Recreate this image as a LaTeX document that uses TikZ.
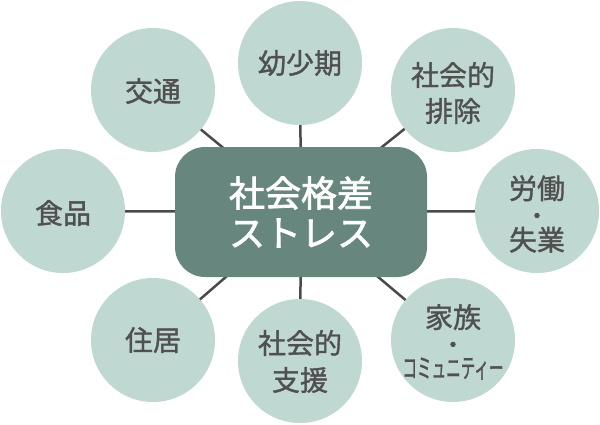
\documentclass[tikz,border=0pt]{standalone}
\usepackage{fontspec}
\newfontfamily\jp{Noto Sans CJK JP}[FakeBold=1.2]
\newfontfamily\jphub{Noto Sans CJK JP}[FakeBold=2]
\newfontfamily\jpdot{Noto Sans CJK JP}[FakeBold=3]
\definecolor{circfill}{HTML}{BFD8D2}
\definecolor{boxfill}{HTML}{67877E}
\definecolor{linecol}{HTML}{4A4A4A}
\definecolor{txtcol}{HTML}{505050}
\newcommand{\midot}{{\jpdot\fontsize{22}{25}\selectfont ・}}
\begin{document}
\begin{tikzpicture}[x=1pt,y=-1pt,
  topic/.style={circle,fill=circfill,minimum size=124pt,inner sep=0pt},
  hub/.style={rounded corners=30pt,fill=boxfill,minimum width=252pt,minimum height=130pt,inner sep=0pt},
  link/.style={draw=linecol,line width=2.5pt},
  lbl/.style={font=\jp\fontsize{28}{28}\selectfont,text=txtcol,inner sep=0pt},
  lbl3/.style={font=\jp\fontsize{28}{25}\selectfont,text=txtcol,inner sep=0pt,align=center},
  hublbl/.style={font=\jphub\fontsize{36}{36}\selectfont,text=white,inner sep=0pt}]
\useasboundingbox (0,0) rectangle (600,424);
% centre
\coordinate (hc) at (301,212);
% topics (coordinates)
\coordinate (c1) at (153,90);
\coordinate (c2) at (300,63);
\coordinate (c3) at (453,90);
\coordinate (c4) at (63,211);
\coordinate (c5) at (537,211);
\coordinate (c6) at (153,340);
\coordinate (c7) at (300,361);
\coordinate (c8) at (453,340);
% connectors behind
\foreach \i in {1,...,8} {\draw[link] (hc) -- (c\i);}
% hub
\node[hub] (hub) at (hc) {};
\node[hublbl] (h1) at (301,193) {社会格差};
\node[hublbl] (h2) at (301,233) {ストレス};
% circles
\node[topic] (t1) at (c1) {};
\node[topic] (t2) at (c2) {};
\node[topic] (t3) at (c3) {};
\node[topic] (t4) at (c4) {};
\node[topic] (t5) at (c5) {};
\node[topic] (t6) at (c6) {};
\node[topic] (t7) at (c7) {};
\node[topic] (t8) at (c8) {};
% labels
\node[lbl] (l1) at (153,91) {交通};
\node[lbl] (l2) at (300,63) {幼少期};
\node[lbl] (l3a) at (453,75) {社会的};
\node[lbl] (l3b) at (453,111) {排除};
\node[lbl] (l4) at (63,213) {食品};
\node[lbl3] (l5) at (537,214) {労働\\\midot\\[1.5pt]失業};
\node[lbl] (l6) at (153,340) {住居};
\node[lbl] (l7a) at (300,343) {社会的};
\node[lbl] (l7b) at (300,380) {支援};
\node[lbl3] (l8) at (453,342) {家族\\\midot\\\scalebox{0.52}[0.95]{コミュニティー}};
\end{tikzpicture}
\end{document}
